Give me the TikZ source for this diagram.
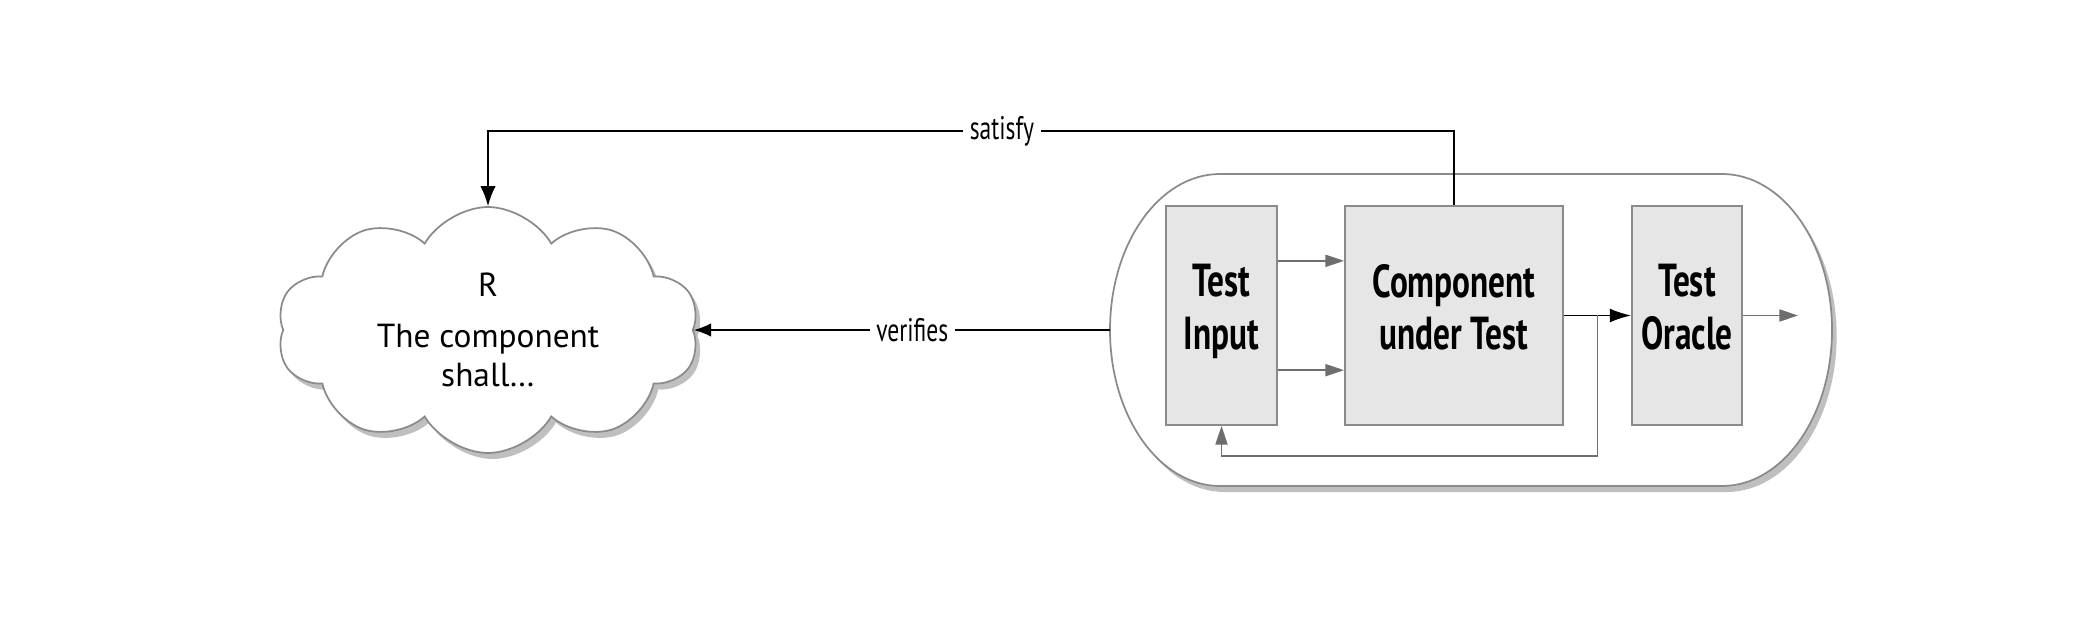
\documentclass[tikz,border=0pt]{standalone}
\usepackage{fontspec}
\setmainfont{PT Sans}
\newfontfamily\condfont[FakeStretch=0.72]{PT Sans}
\usetikzlibrary{shapes.symbols, arrows.meta, shadows}
\definecolor{boxfill}{HTML}{E6E6E6}
\definecolor{boxedge}{HTML}{8A8A8A}
\definecolor{flowgray}{HTML}{6E6E6E}
\tikzset{every picture/.style={line width=1.1pt}}
\tikzset{
  testbox/.style={draw=boxedge, fill=boxfill, line width=1.4pt, minimum height=164.25pt, inner sep=0pt, text depth=13pt, align=center, font=\condfont\bfseries\fontsize{34.7}{39.5}\selectfont},
  reqcloud/.style={cloud, cloud puffs=10, cloud puff arc=120, aspect=1.72, draw=boxedge, fill=white, line width=1.3pt, minimum width=316.5pt, minimum height=184.5pt, align=center, font=\fontsize{25}{29.25}\selectfont, drop shadow={shadow xshift=3.5pt, shadow yshift=-4.5pt, opacity=0.5}},
  harness/.style={draw=boxedge, fill=white, line width=1.3pt, drop shadow={shadow xshift=3.5pt, shadow yshift=-4.5pt, opacity=0.5}},
  flowlabel/.style={fill=white, inner sep=5pt, font=\condfont\fontsize{24.5}{28}\selectfont},
  grayflow/.style={draw=flowgray, line width=1.3pt, -{Triangle[length=14pt, width=9pt]}},
  blackflow/.style={draw=black, -{Latex[length=13pt, width=10pt]}}
}

\begin{document}
\begin{tikzpicture}[x=0.75pt,y=0.75pt,yscale=-1,xscale=1]
\useasboundingbox (0,0) rectangle (2089,620);

%Shape: Rounded harness
\draw [harness] (1220,174) .. controls (1159.25,174) and (1110,243.8) .. (1110,330) .. controls (1110,416.2) and (1159.25,486) .. (1220,486) -- (1722,486) .. controls (1782.75,486) and (1832,416.2) .. (1832,330) .. controls (1832,243.8) and (1782.75,174) .. (1722,174) -- cycle ;
\coordinate (harnessW) at (1110,330);

%Shape: Cloud
\node [reqcloud] (req) at (488,330) {R\\[9.5pt]The component\\shall…};

%Shape: Rectangles
\node [testbox, minimum width=83.25pt] (input) at (1221.5,315.5) {Test\\Input};
\node [testbox, minimum width=163.5pt] (cut) at (1454,315.5) {Component\\under Test};
\node [testbox, minimum width=82.5pt] (oracle) at (1687,315.5) {Test\\Oracle};
\coordinate (split) at (1597.5,315.5);
\coordinate (out) at (1798,315.5);

%Straight Lines
\draw [grayflow] ([yshift=41pt]input.east) -- ([yshift=41pt]cut.west);
\draw [grayflow] ([yshift=-41pt]input.east) -- ([yshift=-41pt]cut.west);
\draw [blackflow, -{Latex[length=16pt, width=10.5pt]}] (cut) -- (oracle);
\draw [grayflow] (oracle) -- (out);
\draw [grayflow] (split) -- ++(0,140.5) -| (input.south);

%Connectors to cloud
\draw [blackflow, -{Latex[length=15pt, width=11.5pt]}] (cut.north) -- ++(0,-74) -| node [flowlabel, pos=0.234] {satisfy} (req.north);
\draw [blackflow] (harnessW) -- node [flowlabel, pos=0.475] {verifies} (harnessW -| req.east);

\end{tikzpicture}
\end{document}
